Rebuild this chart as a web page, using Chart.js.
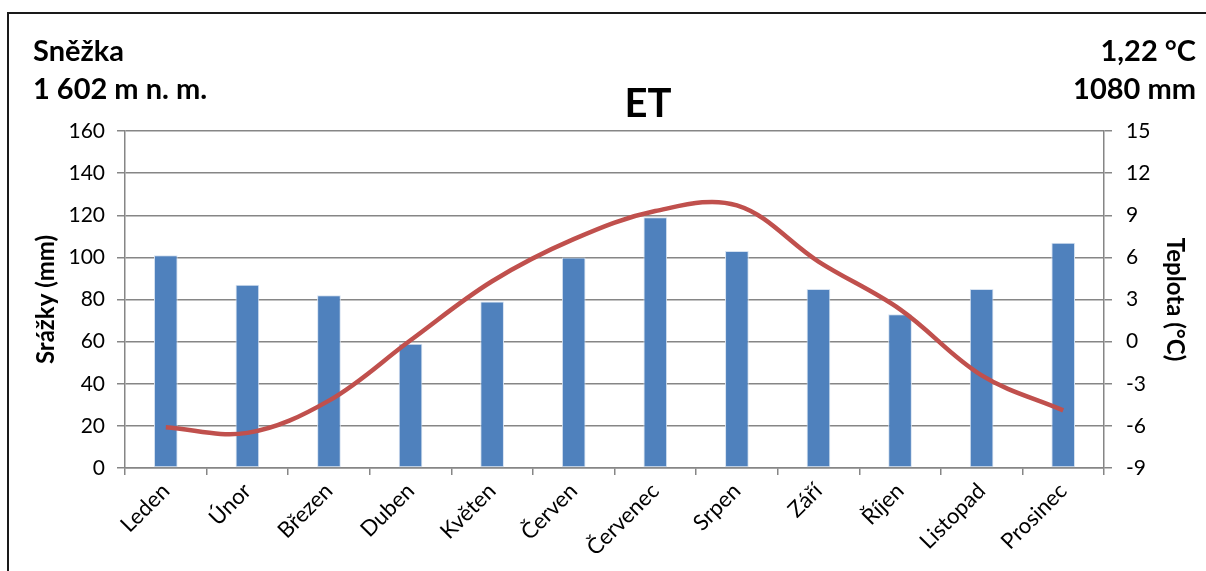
<!DOCTYPE html>
<html lang="cs">
<head>
<meta charset="utf-8">
<title>Sněžka – klimadiagram</title>
<script src="https://cdn.jsdelivr.net/npm/chart.js@4.4.1/dist/chart.umd.min.js"></script>
<style>
  html, body { margin: 0; padding: 0; background: #ffffff; }
  canvas { display: block; }
</style>
</head>
<body>
<canvas id="klima" width="1206" height="571"></canvas>
<script>
// Měsíce a naměřené hodnoty (srážky v mm, průměrná teplota v °C)
const mesice = ['Leden', 'Únor', 'Březen', 'Duben', 'Květen', 'Červen',
                'Červenec', 'Srpen', 'Září', 'Říjen', 'Listopad', 'Prosinec'];
const srazky = [101, 87, 82, 59, 79, 100, 119, 103, 85, 73, 85, 107];
const teplota = [-6.1, -6.5, -4.2, 0.1, 4.3, 7.3, 9.3, 9.7, 5.7, 2.3, -2.4, -4.9];

// Popisky diagramu
const stanice = 'Sněžka';
const nadmorskaVyska = '1 602 m n. m.';
const prumernaTeplota = '1,22 °C';
const rocniSrazky = '1080 mm';
const klimatickyTyp = 'ET';
const popisSrazky = 'Srážky (mm)';
const popisTeplota = 'Teplota (°C)';

// Rozsahy os
const srazkyMin = 0, srazkyMax = 160, srazkyKrok = 20;
const teplotaMin = -9, teplotaMax = 15, teplotaKrok = 3;

const FONT = 'Lato, "Open Sans", sans-serif';
const SEDA = '#868686';

// Záhlaví, rámeček a názvy os kreslené přímo na plátno
const popisky = {
  id: 'popisky',
  afterDraw(chart) {
    const ctx = chart.ctx;
    const a = chart.chartArea;
    ctx.save();
    ctx.strokeStyle = '#1a1a1a';
    ctx.lineWidth = 2;
    ctx.strokeRect(8, 13, 1400, 800);

    ctx.fillStyle = '#000000';
    ctx.textBaseline = 'alphabetic';
    ctx.font = 'bold 29px ' + FONT;
    ctx.textAlign = 'left';
    ctx.fillText(stanice, 33, 61);
    ctx.fillText(nadmorskaVyska, 33, 99);
    ctx.textAlign = 'right';
    ctx.fillText(prumernaTeplota, 1196, 61);
    ctx.fillText(rocniSrazky, 1196, 99);

    ctx.textAlign = 'center';
    ctx.font = 'bold 40px ' + FONT;
    ctx.fillText(klimatickyTyp, 648, 117);

    const stred = (a.top + a.bottom) / 2;
    ctx.font = 'bold 24px ' + FONT;
    ctx.textBaseline = 'middle';
    ctx.save();
    ctx.translate(46, stred);
    ctx.rotate(-Math.PI / 2);
    ctx.fillText(popisSrazky, 0, 0);
    ctx.restore();
    ctx.save();
    ctx.translate(1175, stred);
    ctx.rotate(Math.PI / 2);
    ctx.fillText(popisTeplota, 0, 0);
    ctx.restore();
    ctx.restore();
  }
};

new Chart(document.getElementById('klima'), {
  data: {
    labels: mesice,
    datasets: [
      {
        type: 'line',
        label: popisTeplota,
        data: teplota,
        yAxisID: 'yT',
        borderColor: '#C0504D',
        borderWidth: 4.5,
        pointRadius: 0,
        tension: 0.36,
        fill: false,
        order: 0
      },
      {
        type: 'bar',
        label: popisSrazky,
        data: srazky,
        yAxisID: 'yS',
        backgroundColor: '#4F81BD',
        borderColor: '#d6e2f1',
        borderWidth: 1,
        borderSkipped: false,
        categoryPercentage: 1,
        barPercentage: 0.29,
        order: 1
      }
    ]
  },
  options: {
    responsive: false,
    animation: false,
    layout: { padding: { top: 131, left: 0, right: 0, bottom: 0 } },
    plugins: {
      legend: { display: false },
      title: { display: false },
      tooltip: { enabled: false }
    },
    scales: {
      x: {
        offset: true,
        afterFit(s) { s.height = 103; },
        grid: {
          offset: true,
          drawOnChartArea: false,
          drawTicks: true,
          tickLength: 7,
          color: SEDA,
          lineWidth: 1.5
        },
        border: { display: true, color: SEDA, width: 1.5 },
        ticks: {
          color: '#000000',
          font: { family: FONT, size: 22 },
          minRotation: 45,
          maxRotation: 45,
          autoSkip: false,
          padding: 3
        }
      },
      yS: {
        position: 'left',
        min: srazkyMin,
        max: srazkyMax,
        afterFit(s) { s.width = 125; },
        grid: {
          color: SEDA,
          lineWidth: 1.5,
          drawTicks: true,
          tickLength: 8
        },
        border: { display: true, color: SEDA, width: 1.5 },
        ticks: {
          stepSize: srazkyKrok,
          color: '#000000',
          font: { family: FONT, size: 21 },
          padding: 12
        }
      },
      yT: {
        position: 'right',
        min: teplotaMin,
        max: teplotaMax,
        afterFit(s) { s.width = 102; },
        grid: {
          drawOnChartArea: false,
          drawTicks: true,
          tickLength: 8,
          color: SEDA,
          lineWidth: 1.5
        },
        border: { display: true, color: SEDA, width: 1.5 },
        ticks: {
          stepSize: teplotaKrok,
          color: '#000000',
          font: { family: FONT, size: 21 },
          padding: 14
        }
      }
    }
  },
  plugins: [popisky]
});
</script>
</body>
</html>
